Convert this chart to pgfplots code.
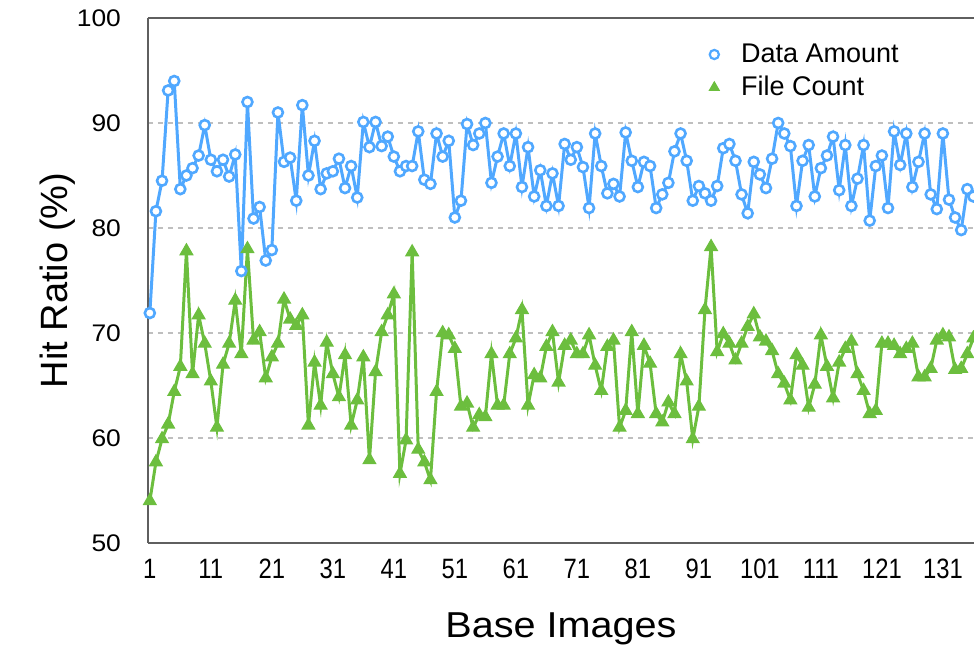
\documentclass[border=0pt]{standalone}
\usepackage{fontspec}
\setmainfont{Liberation Sans}
\newfontfamily\narrowfont[FakeStretch=0.85]{Liberation Sans}
\newfontfamily\widefont[FakeStretch=1.1]{Liberation Sans}
\usepackage{pgfplots}
\pgfplotsset{compat=1.18}
\definecolor{bluel}{RGB}{80,168,255}
\definecolor{greenl}{RGB}{108,190,62}
\definecolor{axgray}{RGB}{95,95,95}
\pgfplotstableread{
i v
1 71.9
2 81.6
3 84.5
4 93.1
5 94.0
6 83.7
7 85.0
8 85.7
9 86.9
10 89.8
11 86.5
12 85.4
13 86.5
14 84.9
15 87.0
16 75.9
17 92.0
18 80.9
19 82.0
20 76.9
21 77.9
22 91.0
23 86.3
24 86.7
25 82.6
26 91.7
27 85.0
28 88.3
29 83.7
30 85.2
31 85.4
32 86.6
33 83.8
34 85.9
35 82.9
36 90.1
37 87.7
38 90.1
39 87.8
40 88.7
41 86.8
42 85.4
43 85.9
44 85.9
45 89.2
46 84.6
47 84.2
48 89.0
49 86.8
50 88.3
51 81.0
52 82.6
53 89.9
54 87.9
55 89.0
56 90.0
57 84.3
58 86.8
59 89.0
60 85.9
61 89.0
62 83.9
63 87.7
64 83.0
65 85.5
66 82.1
67 85.2
68 82.1
69 88.0
70 86.5
71 87.7
72 85.8
73 81.9
74 89.0
75 85.9
76 83.3
77 84.2
78 83.0
79 89.1
80 86.4
81 83.9
82 86.3
83 85.9
84 81.9
85 83.2
86 84.3
87 87.3
88 89.0
89 86.4
90 82.6
91 84.0
92 83.3
93 82.6
94 84.0
95 87.6
96 88.0
97 86.4
98 83.2
99 81.4
100 86.3
101 85.1
102 83.8
103 86.6
104 90.0
105 89.0
106 87.8
107 82.1
108 86.4
109 87.9
110 83.0
111 85.7
112 86.9
113 88.7
114 83.6
115 87.9
116 82.1
117 84.7
118 87.9
119 80.7
120 85.9
121 86.9
122 81.9
123 89.2
124 86.0
125 89.0
126 83.9
127 86.3
128 89.0
129 83.2
130 81.8
131 89.0
132 82.7
133 81.0
134 79.8
135 83.7
136 83.0
}\dataamount
\pgfplotstableread{
i v
1 54.0
2 57.7
3 59.9
4 61.3
5 64.4
6 66.8
7 77.8
8 66.1
9 71.7
10 69.0
11 65.4
12 61.0
13 67.0
14 69.0
15 73.1
16 68.0
17 78.0
18 69.3
19 70.1
20 65.7
21 67.7
22 69.0
23 73.2
24 71.3
25 70.7
26 71.7
27 61.2
28 67.2
29 63.1
30 69.1
31 66.1
32 63.9
33 67.9
34 61.2
35 63.6
36 67.7
37 57.9
38 66.3
39 70.1
40 71.7
41 73.7
42 56.6
43 59.8
44 77.7
45 58.9
46 57.7
47 56.0
48 64.4
49 70.0
50 69.8
51 68.5
52 63.0
53 63.3
54 61.0
55 62.2
56 62.0
57 68.0
58 63.1
59 63.1
60 68.0
61 69.5
62 72.2
63 63.1
64 66.0
65 65.7
66 68.7
67 70.1
68 65.3
69 68.8
70 69.3
71 68.0
72 68.0
73 69.8
74 66.9
75 64.5
76 68.7
77 69.3
78 61.0
79 62.6
80 70.1
81 62.3
82 68.8
83 67.1
84 62.3
85 61.5
86 63.4
87 62.3
88 68.0
89 65.4
90 59.9
91 63.0
92 72.2
93 78.2
94 68.2
95 69.9
96 69.0
97 67.4
98 69.0
99 70.6
100 71.8
101 69.6
102 69.2
103 68.3
104 66.1
105 65.2
106 63.6
107 67.9
108 66.9
109 62.9
110 65.1
111 69.8
112 66.8
113 63.8
114 67.2
115 68.5
116 69.2
117 66.1
118 64.5
119 62.3
120 62.6
121 69.0
122 69.0
123 68.8
124 68.0
125 68.5
126 69.0
127 65.8
128 65.8
129 66.6
130 69.3
131 69.8
132 69.6
133 66.5
134 66.6
135 68.0
136 69.5
}\filecount
\begin{document}
\begin{tikzpicture}
\begin{axis}[name=ax, scale only axis, width=413pt, height=262.5pt,
  xmin=0.7, xmax=136.1, ymin=50, ymax=100,
  xtick={1,11,...,131}, ytick={50,60,...,100},
  axis x line*=box, axis y line*=left,
  axis line style={-, draw=axgray, line width=1pt},
  major tick length=0pt,
  ymajorgrids, grid style={dash pattern=on 2.5pt off 2.5pt, color=black!25, line width=0.6pt},
  /pgf/number format/assume math mode=true,
  xticklabel style={font=\narrowfont\fontsize{14}{14}\selectfont, yshift=-4.5pt},
  yticklabel style={font=\widefont\fontsize{12}{12}\selectfont, xshift=-10pt},
  xlabel={Base Images}, ylabel={Hit Ratio (\%)},
  xlabel style={font=\widefont\fontsize{18}{20}\selectfont, yshift=-10pt},
  ylabel style={font=\fontsize{19}{20}\selectfont, yshift=-6pt},
  legend style={draw=none, fill=none, at={(0.672,0.967)}, anchor=north west,
    font=\fontsize{13.5}{14}\selectfont, row sep=1.5pt,
    /tikz/every odd column/.append style={column sep=9pt}},
  legend cell align=left,
]
\addlegendimage{only marks, mark=*, mark size=2.3pt, mark options={fill=white, draw=bluel, line width=1.1pt}}
\addlegendentry{Data Amount}
\addlegendimage{only marks, mark=triangle*, mark size=2.8pt, mark options={fill=greenl, draw=greenl, line width=0.6pt}}
\addlegendentry{File Count}
\addplot[forget plot, color=greenl, line width=1.5pt, mark=triangle*, mark size=3.6pt,
  mark options={fill=greenl, draw=greenl, line width=0.6pt}] table[x=i, y=v] {\filecount};
\addplot[forget plot, color=bluel, line width=1.5pt, mark=*, mark size=2.5pt,
  mark options={fill=white, draw=bluel, line width=1.3pt}] table[x=i, y=v] {\dataamount};
\end{axis}
\pgfresetboundingbox
\path ([xshift=-74pt,yshift=-51pt]ax.south west) rectangle ([yshift=9pt]ax.north east);
\end{tikzpicture}
\end{document}
